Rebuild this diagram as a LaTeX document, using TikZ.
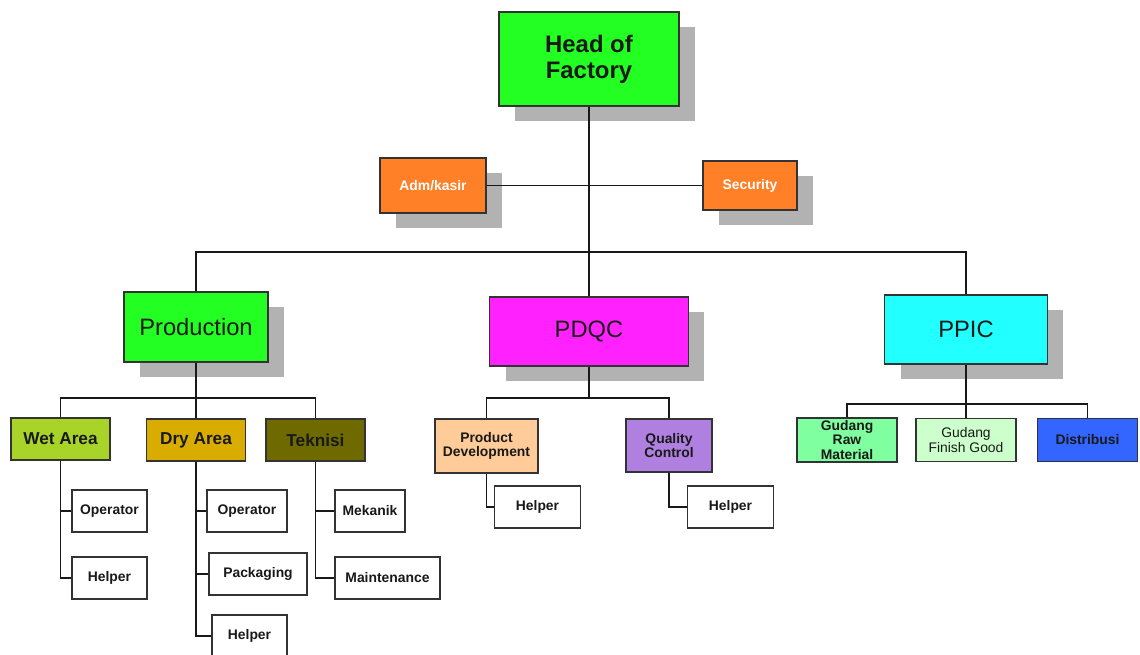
\documentclass[tikz,border=0pt]{standalone}
\usepackage{fontspec}
\setmainfont{Liberation Sans}
\usetikzlibrary{shadows}
\definecolor{headGreen}{RGB}{35,255,35}
\definecolor{admOrange}{RGB}{255,128,39}
\definecolor{pdqcMagenta}{RGB}{255,34,255}
\definecolor{ppicCyan}{RGB}{34,255,255}
\definecolor{wetGreen}{RGB}{168,212,42}
\definecolor{dryGold}{RGB}{217,173,0}
\definecolor{tekOlive}{RGB}{110,106,0}
\definecolor{pdPeach}{RGB}{255,204,153}
\definecolor{qcPurple}{RGB}{175,128,224}
\definecolor{rawGreen}{RGB}{128,255,160}
\definecolor{finishGreen}{RGB}{204,255,204}
\definecolor{distBlue}{RGB}{51,102,255}

\begin{document}
\begin{tikzpicture}[x=0.02cm, y=-0.02cm,
    unit/.style={draw=black!80, line width=1.1pt, inner sep=1pt, align=center, minimum height=0.84cm, text=black!90, font=\bfseries\fontsize{7.9}{8.4}\selectfont},
    shadowed/.style={unit, drop shadow={shadow xshift=0.32cm, shadow yshift=-0.3cm, fill=black!30, opacity=1}},
    bigtext/.style={font=\fontsize{13.5}{15}\selectfont},
    midtext/.style={font=\bfseries\fontsize{9.8}{11}\selectfont},
    link/.style={draw=black!90, line width=0.6pt}]
    \useasboundingbox (0,0) rectangle (1140,654);

    % top level
    \node[shadowed, fill=headGreen, minimum width=3.6cm, minimum height=1.88cm, font=\bfseries\fontsize{13.6}{14.7}\selectfont] (head) at (589,59) {Head of\\Factory};
    \node[shadowed, fill=admOrange, text=white, minimum width=2.12cm, minimum height=1.1cm] (adm) at (433,185.5) {Adm/kasir};
    \node[shadowed, fill=admOrange, text=white, minimum width=1.88cm, minimum height=0.98cm] (sec) at (750,185.5) {Security};

    % departments
    \node[shadowed, bigtext, fill=headGreen, minimum width=2.88cm, minimum height=1.4cm] (prod) at (196,327) {Production};
    \node[shadowed, bigtext, fill=pdqcMagenta, minimum width=3.98cm, minimum height=1.38cm] (pdqc) at (589,331.5) {PDQC};
    \node[shadowed, bigtext, fill=ppicCyan, minimum width=3.26cm, minimum height=1.38cm] (ppic) at (966,329.5) {PPIC};

    % production
    \node[unit, midtext, fill=wetGreen, minimum width=1.98cm] (wet) at (60.5,439) {Wet Area};
    \node[unit, midtext, fill=dryGold, minimum width=1.98cm] (dry) at (196,440) {Dry Area};
    \node[unit, midtext, fill=tekOlive, minimum width=1.98cm] (tek) at (315.5,440) {Teknisi};
    \node[unit, fill=white, minimum width=1.5cm] (wetop) at (109.5,511) {Operator};
    \node[unit, fill=white, minimum width=1.5cm] (wethelp) at (109.5,578) {Helper};
    \node[unit, fill=white, minimum width=1.6cm] (dryop) at (247,511) {Operator};
    \node[unit, fill=white, minimum width=1.96cm] (drypack) at (258,574) {Packaging};
    \node[unit, fill=white, minimum width=1.5cm] (dryhelp) at (249.5,636) {Helper};
    \node[unit, fill=white, minimum width=1.4cm] (mek) at (370,511) {Mekanik};
    \node[unit, fill=white, minimum width=2.1cm] (maint) at (387.5,578) {Maintenance};

    % pdqc
    \node[unit, fill=pdPeach, minimum width=2.06cm, minimum height=1.08cm] (pd) at (486.5,446) {Product\\Development};
    \node[unit, fill=qcPurple, minimum width=1.72cm, minimum height=1.06cm] (qc) at (669,445.5) {Quality\\Control};
    \node[unit, fill=white, minimum width=1.72cm] (pdhelp) at (537.5,507) {Helper};
    \node[unit, fill=white, minimum width=1.72cm] (qchelp) at (730.5,507) {Helper};

    % ppic
    \node[unit, fill=rawGreen, minimum width=2cm, minimum height=0.86cm] (graw) at (847,440) {Gudang\\Raw\\Material};
    \node[unit, fill=finishGreen, minimum width=2cm, minimum height=0.86cm, font=\fontsize{7.9}{8.6}\selectfont] (gfg) at (966,440) {Gudang\\Finish Good};
    \node[unit, fill=distBlue, minimum width=2cm, minimum height=0.86cm] (dist) at (1087.5,440) {Distribusi};

    \coordinate (topbus) at (589,252);
    \coordinate (prodbus) at (196,398);
    \coordinate (pdqcbus) at (589,398);
    \coordinate (ppicbus) at (966,404);

    \draw[link] (head.south) -- (pdqc.north);
    \draw[link] (adm) -- (sec);
    \draw[link] (prod.north) |- (topbus) -| (ppic.north);
    \draw[link] (prod.south) -- (dry.north);
    \draw[link] (wet.north) |- (prodbus) -| (tek.north);
    \draw[link] (wet.south) |- (wetop.west);
    \draw[link] (wet.south) |- (wethelp.west);
    \draw[link] (dry.south) |- (dryop.west);
    \draw[link] (dry.south) |- (drypack.west);
    \draw[link] (dry.south) |- (dryhelp.west);
    \draw[link] (tek.south) |- (mek.west);
    \draw[link] (tek.south) |- (maint.west);
    \draw[link] (pdqc.south) -- (pdqcbus);
    \draw[link] (pd.north) |- (pdqcbus) -| (qc.north);
    \draw[link] (pd.south) |- (pdhelp.west);
    \draw[link] (qc.south) |- (qchelp.west);
    \draw[link] (ppic.south) -- (gfg.north);
    \draw[link] (graw.north) |- (ppicbus) -| (dist.north);
\end{tikzpicture}
\end{document}
